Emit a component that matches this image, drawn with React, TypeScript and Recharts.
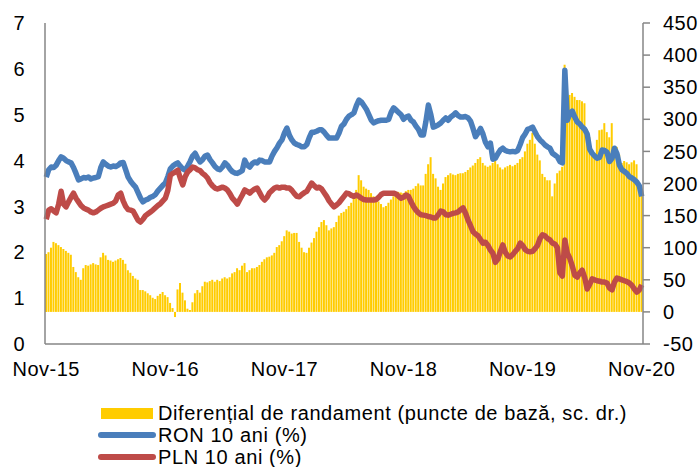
import { ComposedChart, Bar, Line, XAxis, YAxis } from "recharts";

// one point per ~week (4 per month), Nov-15 .. Nov-20
const xLabels = ["Nov-15", "Nov-16", "Nov-17", "Nov-18", "Nov-19", "Nov-20"];
const pointsPerYear = 48;

const leftTicks = [0, 1, 2, 3, 4, 5, 6, 7];
const rightTicks = [-50, 0, 50, 100, 150, 200, 250, 300, 350, 400, 450];

// RON 10 ani (%)
const ron = [
  3.64, 3.8, 3.86, 3.85, 3.9, 4.0, 4.08, 4.05, 4.0, 3.97, 3.95, 3.85, 3.72, 3.58, 3.6, 3.63,
  3.62, 3.64, 3.6, 3.62, 3.63, 3.65, 3.85, 3.97, 3.92, 3.88, 3.86, 3.88, 3.87, 3.9, 3.95, 3.96,
  3.8, 3.64, 3.55, 3.48, 3.42, 3.3, 3.18, 3.1, 3.14, 3.16, 3.2, 3.22, 3.26, 3.34, 3.4, 3.46,
  3.51, 3.65, 3.82, 3.88, 3.92, 3.95, 3.88, 3.82, 3.79, 3.88, 3.98, 4.1, 4.16, 4.05, 3.97, 4.02,
  4.1, 4.12, 4.02, 3.95, 3.87, 3.82, 3.8, 3.86, 3.95, 3.9, 3.82, 3.76, 3.73, 3.72, 3.75, 3.78,
  4.01, 3.9, 3.86, 3.93, 3.97, 3.95, 4.01, 4.0, 3.97, 3.97, 3.97, 4.1, 4.2, 4.28, 4.38, 4.45,
  4.6, 4.71, 4.55, 4.45, 4.38, 4.35, 4.33, 4.3, 4.3, 4.35, 4.5, 4.62, 4.62, 4.64, 4.67, 4.67,
  4.62, 4.55, 4.49, 4.49, 4.49, 4.49, 4.6, 4.75, 4.8, 4.9, 4.97, 5.0, 5.04, 5.2, 5.32, 5.28,
  5.2, 5.12, 5.0, 4.88, 4.82, 4.85, 4.87, 4.88, 4.88, 4.88, 4.9, 5.05, 5.15, 5.1, 5.05, 5.0,
  4.9, 4.95, 4.97, 4.88, 4.84, 4.75, 4.68, 4.56, 4.56, 4.85, 5.21, 5.0, 4.73, 4.75, 4.78, 4.82,
  4.88, 4.93, 4.88, 4.95, 4.99, 5.04, 4.98, 4.95, 4.95, 4.96, 4.93, 4.86, 4.7, 4.52, 4.6, 4.7,
  4.58, 4.4, 4.3, 4.38, 4.03, 4.05, 4.15, 4.23, 4.27, 4.22, 4.2, 4.19, 4.2, 4.19, 4.22, 4.35,
  4.5, 4.58, 4.68, 4.7, 4.73, 4.62, 4.52, 4.45, 4.4, 4.34, 4.3, 4.27, 4.16, 4.12, 4.08, 3.98,
  3.95, 5.97, 4.88, 5.02, 5.08, 4.95, 4.84, 4.8, 4.73, 4.68, 4.58, 4.25, 4.16, 4.1, 4.05, 4.07,
  4.23, 4.22, 4.18, 3.98, 4.05, 4.27, 4.15, 3.9, 3.8, 3.76, 3.72, 3.65, 3.62, 3.58, 3.53, 3.45,
  3.22,
];

// PLN 10 ani (%)
const pln = [
  2.72, 2.92, 2.95, 2.9, 2.86, 3.05, 3.33, 3.05, 2.99, 3.1, 3.2, 3.29, 3.18, 3.1, 3.02, 2.97,
  2.94, 2.92, 2.88, 2.86, 2.88, 2.92, 2.96, 2.99, 3.01, 3.03, 3.05, 3.07, 3.12, 3.25, 3.29, 3.12,
  3.0, 2.93, 2.92, 2.9, 2.8, 2.7, 2.66, 2.72, 2.8, 2.84, 2.88, 2.92, 2.97, 3.02, 3.06, 3.12,
  3.18, 3.35, 3.68, 3.72, 3.75, 3.79, 3.62, 3.47, 3.65, 3.75, 3.8, 3.86, 3.84, 3.8, 3.78, 3.72,
  3.68, 3.62, 3.52, 3.45, 3.4, 3.38, 3.4, 3.42, 3.4, 3.36, 3.28, 3.18, 3.12, 3.05, 3.15, 3.25,
  3.36, 3.33, 3.29, 3.34, 3.38, 3.4, 3.3, 3.2, 3.14, 3.2, 3.3, 3.35, 3.4, 3.42, 3.4, 3.42,
  3.42, 3.4, 3.4, 3.35, 3.28, 3.22, 3.21, 3.26, 3.3, 3.33, 3.42, 3.51, 3.45, 3.4, 3.42, 3.38,
  3.3, 3.22, 3.12, 3.05, 2.99, 3.03, 3.08, 3.15, 3.22, 3.29, 3.28, 3.24, 3.22, 3.25, 3.22, 3.18,
  3.15, 3.14, 3.14, 3.14, 3.14, 3.15, 3.2, 3.26, 3.29, 3.29, 3.29, 3.29, 3.29, 3.27, 3.22, 3.18,
  3.2, 3.25, 3.22, 3.1, 3.0, 2.92, 2.86, 2.82, 2.81, 2.8, 2.78, 2.77, 2.75, 2.75, 2.82, 2.9,
  2.88, 2.82, 2.81, 2.83, 2.85, 2.86, 2.88, 2.93, 2.97, 2.85, 2.7, 2.58, 2.45, 2.4, 2.36, 2.28,
  2.2, 2.22, 2.15, 2.05, 1.98, 1.78, 1.85, 2.02, 2.16, 2.0, 1.92, 1.9, 1.95, 2.02, 2.08, 2.2,
  2.15, 2.06, 2.02, 2.01, 2.02, 2.08, 2.15, 2.3, 2.38, 2.36, 2.3, 2.27, 2.2, 2.18, 2.1, 1.55,
  1.48, 2.27, 1.98, 1.87, 1.7, 1.5, 1.46, 1.55, 1.61, 1.45, 1.2, 1.3, 1.42, 1.4, 1.38, 1.37,
  1.35, 1.35, 1.33, 1.22, 1.18, 1.35, 1.44, 1.42, 1.4, 1.38, 1.36, 1.33, 1.28, 1.2, 1.13, 1.18,
  1.29,
];

// Diferential de randament (puncte de baza, right axis)
const diff = [
  90, 93, 100, 109, 107, 104, 101, 98, 95, 92, 89, 70, 62, 54, 50, 68,
  73, 72, 74, 76, 74, 73, 85, 92, 88, 81, 80, 78, 80, 82, 84, 81,
  75, 65, 61, 56, 52, 50, 34, 34, 32, 29, 26, 22, 20, 25, 28, 31,
  26, 23, 14, 6, -8, 35, 45, 30, 18, 5, 3, 15, 29, 34, 30, 40,
  47, 46, 48, 50, 47, 50, 48, 52, 54, 52, 54, 60, 62, 68, 65, 72,
  76, 62, 65, 68, 68, 70, 73, 78, 82, 85, 86, 88, 92, 101, 104, 110,
  118, 127, 125, 122, 123, 123, 109, 100, 93, 92, 100, 108, 115, 125, 132, 140,
  143, 135, 127, 130, 132, 140, 150, 154, 156, 160, 165, 170, 179, 190, 213, 205,
  195, 192, 190, 185, 180, 179, 172, 168, 163, 165, 170, 175, 180, 183, 187, 186,
  185, 188, 190, 190, 192, 196, 200, 197, 197, 215, 230, 241, 215, 208, 195, 190,
  200, 210, 213, 216, 214, 213, 215, 216, 216, 218, 221, 225, 228, 232, 238, 241,
  232, 228, 226, 228, 232, 237, 230, 225, 222, 225, 227, 229, 227, 229, 232, 238,
  241, 250, 262, 268, 279, 262, 245, 236, 215, 210, 205, 205, 180, 200, 216, 220,
  226, 385, 345, 338, 341, 335, 330, 330, 328, 325, 285, 272, 250, 241, 268, 283,
  284, 294, 280, 272, 294, 257, 257, 245, 232, 235, 233, 230, 233, 236, 230, 194,
  185,
];

const data = ron.map((v, i) => ({ i, ron: v, pln: pln[i], diff: diff[i] }));

const FONT = "'Liberation Sans', Arial, sans-serif";
const AXIS = "#868686";
const YELLOW = "#FFCC00";
const BLUE = "#4A7EBB";
const RED = "#BE4B48";

const tickStyle = { fill: "#000", fontSize: 20, letterSpacing: 0.5 };

function ChartLegend() {
  const rows = [
    { label: "Diferențial de randament (puncte de bază, sc. dr.)", kind: "bar", color: YELLOW },
    { label: "RON 10 ani (%)", kind: "line", color: BLUE },
    { label: "PLN 10 ani (%)", kind: "line", color: RED },
  ];
  return (
    <div
      style={{
        position: "absolute",
        left: 98,
        top: 402,
        fontFamily: FONT,
        fontSize: 20,
        lineHeight: "22px",
        letterSpacing: 0.6,
        color: "#000",
      }}
    >
      {rows.map((r) => (
        <div key={r.label} style={{ display: "flex", alignItems: "center", height: 22, whiteSpace: "nowrap" }}>
          <svg width={58} height={22} style={{ display: "block" }}>
            {r.kind === "bar" ? (
              <rect x={3} y={6} width={52} height={11} fill={r.color} />
            ) : (
              <line x1={3} x2={55} y1={11} y2={11} stroke={r.color} strokeWidth={6} strokeLinecap="round" />
            )}
          </svg>
          <span style={{ marginLeft: 2 }}>{r.label}</span>
        </div>
      ))}
    </div>
  );
}

export default function App() {
  return (
    <div style={{ position: "absolute", left: 0, top: 0, width: 700, height: 467, background: "#fff" }}>
      <ComposedChart
        width={700}
        height={467}
        data={data}
        margin={{ top: 23, right: 0, bottom: 83, left: 0 }}
        style={{ fontFamily: FONT }}
      >
        <XAxis
          dataKey="i"
          interval={pointsPerYear - 1}
          tickFormatter={(v: number) => xLabels[Math.round(v / pointsPerYear)] ?? ""}
          axisLine={{ stroke: AXIS, strokeWidth: 1.5 }}
          tickLine={false}
          tickSize={0}
          tickMargin={18}
          height={40}
          tick={tickStyle}
        />
        <YAxis
          yAxisId="left"
          domain={[0, 7]}
          ticks={leftTicks}
          width={45}
          axisLine={{ stroke: AXIS, strokeWidth: 1.5 }}
          tickLine={false}
          tickSize={0}
          tickMargin={20}
          tick={tickStyle}
        />
        <YAxis
          yAxisId="right"
          orientation="right"
          domain={[-50, 450]}
          ticks={rightTicks}
          width={57}
          axisLine={{ stroke: AXIS, strokeWidth: 1.5 }}
          tickLine={{ stroke: AXIS, strokeWidth: 1.5 }}
          tickSize={7}
          tickMargin={13}
          tick={{ ...tickStyle, textAnchor: "start" }}
        />
        <Bar yAxisId="right" dataKey="diff" fill={YELLOW} barSize={2} isAnimationActive={false} />
        <Line
          yAxisId="left"
          type="linear"
          dataKey="ron"
          stroke={BLUE}
          strokeWidth={5.5}
          strokeLinejoin="round"
          dot={false}
          activeDot={false}
          isAnimationActive={false}
        />
        <Line
          yAxisId="left"
          type="linear"
          dataKey="pln"
          stroke={RED}
          strokeWidth={5.5}
          strokeLinejoin="round"
          dot={false}
          activeDot={false}
          isAnimationActive={false}
        />
      </ComposedChart>
      <ChartLegend />
    </div>
  );
}
